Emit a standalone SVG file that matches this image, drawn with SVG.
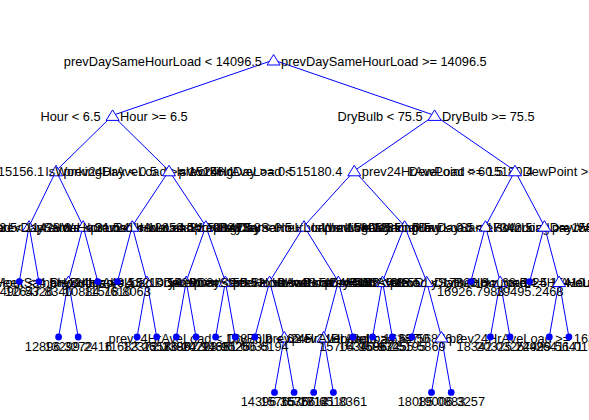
<svg xmlns="http://www.w3.org/2000/svg" xmlns:xlink="http://www.w3.org/1999/xlink" width="589" height="420" viewBox="0 0 589 420">
<style>
.e{stroke:#0000ff;stroke-width:1;fill:none}
.tri{fill:#ffffff;stroke:#0000ff;stroke-width:1}
.dot{fill:#0000ff}
text{font-family:"Liberation Sans",Arial,sans-serif;font-size:12.8px;fill:#000}
.l{text-anchor:end}
.n{text-anchor:middle}
</style>
<defs>
<path id="tri" class="tri" d="M0,-5.5L6.5,5L-6.5,5Z"/>
<circle id="dot" class="dot" r="3.4"/>
</defs>
<rect width="589" height="420" fill="#ffffff"/>
<g id="connectors" class="e">
<path d="M273.6,60L112.6,115.4M273.6,60L434.6,115.4
M112.6,115.4L56.1,170.8M112.6,115.4L169,170.8M434.6,115.4L354.3,170.8M434.6,115.4L515,170.8
M56.1,170.8L29.1,226.2M56.1,170.8L83.1,226.2M169,170.8L132.2,226.2M169,170.8L205.8,226.2
M354.3,170.8L304,226.2M354.3,170.8L404.6,226.2M515,170.8L485.5,226.2M515,170.8L544.4,226.2
M29.1,226.2L19.3,281.6M29.1,226.2L38.9,281.6M83.1,226.2L68.4,281.6M83.1,226.2L97.8,281.6
M132.2,226.2L117.5,281.6M132.2,226.2L146.9,281.6M205.8,226.2L186.2,281.6M205.8,226.2L225.4,281.6
M304,226.2L269.6,281.6M304,226.2L338.3,281.6M404.6,226.2L382.5,281.6M404.6,226.2L426.6,281.6
M485.5,226.2L470.8,281.6M485.5,226.2L500.2,281.6M544.4,226.2L529.7,281.6M544.4,226.2L559.1,281.6
M68.4,281.6L58.6,337M68.4,281.6L78.2,337M146.9,281.6L137.1,337M146.9,281.6L156.7,337
M186.2,281.6L176.3,337M186.2,281.6L196,337M225.4,281.6L215.6,337M225.4,281.6L235.2,337
M269.6,281.6L254.9,337M269.6,281.6L284.3,337M338.3,281.6L323.6,337M338.3,281.6L353,337
M382.5,281.6L372.6,337M382.5,281.6L392.3,337M426.6,281.6L411.9,337M426.6,281.6L441.4,337
M500.2,281.6L490.4,337M500.2,281.6L510,337M559.1,281.6L549.3,337M559.1,281.6L568.9,337
M284.3,337L274.5,392.4M284.3,337L294.1,392.4M323.6,337L313.7,392.4M323.6,337L333.4,392.4
M441.4,337L431.5,392.4M441.4,337L451.2,392.4"/>
</g>
<g id="node-root"><use xlink:href="#tri" x="273.6" y="60"/><text class="l" x="262" y="65.5">prevDaySameHourLoad &lt; 14096.5</text><text x="281.1" y="65.5">prevDaySameHourLoad &gt;= 14096.5</text></g>
<g id="node-hour"><use xlink:href="#tri" x="112.6" y="115.4"/><text class="l" x="100.6" y="120.9">Hour &lt; 6.5</text><text x="120.1" y="120.9">Hour &gt;= 6.5</text></g>
<g id="node-drybulb"><use xlink:href="#tri" x="434.6" y="115.4"/><text class="l" x="422.6" y="120.9">DryBulb &lt; 75.5</text><text x="442.1" y="120.9">DryBulb &gt;= 75.5</text></g>
<g id="node-3"><use xlink:href="#tri" x="56.1" y="170.8"/><text class="l" x="44.1" y="176.3">prev24HrAveLoad &lt; 15156.1</text><text x="63.6" y="176.3">prev24HrAveLoad &gt;= 15156.1</text></g>
<g id="node-4"><use xlink:href="#tri" x="169" y="170.8"/><text class="l" x="157" y="176.3">IsWorkingDay &lt; 0.5</text><text x="176.5" y="176.3">IsWorkingDay &gt;= 0.5</text></g>
<g id="node-5"><use xlink:href="#tri" x="354.3" y="170.8"/><text class="l" x="342.3" y="176.3">prev24HrAveLoad &lt; 15180.4</text><text x="361.8" y="176.3">prev24HrAveLoad &gt;= 15180.4</text></g>
<g id="node-6"><use xlink:href="#tri" x="515" y="170.8"/><text class="l" x="503" y="176.3">DewPoint &lt; 60.5</text><text x="522.5" y="176.3">DewPoint &gt;= 60.5</text></g>
<g id="node-7"><use xlink:href="#tri" x="29.1" y="226.2"/><text class="l" x="17.1" y="231.7">prevWeekSameHourLoad &lt; 10823.5</text><text x="36.6" y="231.7">prevWeekSameHourLoad &gt;= 10823.5</text></g>
<g id="node-8"><use xlink:href="#tri" x="83.1" y="226.2"/><text class="l" x="71.1" y="231.7">prev24HrAveLoad &lt; 11423.8</text><text x="90.6" y="231.7">prev24HrAveLoad &gt;= 11423.8</text></g>
<g id="node-9"><use xlink:href="#tri" x="132.2" y="226.2"/><text class="l" x="120.2" y="231.7">Hour &lt; 21.5</text><text x="139.7" y="231.7">Hour &gt;= 21.5</text></g>
<g id="node-10"><use xlink:href="#tri" x="205.8" y="226.2"/><text class="l" x="193.8" y="231.7">prevDaySameHourLoad &lt; 12852.5</text><text x="213.3" y="231.7">prevDaySameHourLoad &gt;= 12852.5</text></g>
<g id="node-11"><use xlink:href="#tri" x="304" y="226.2"/><text class="l" x="292" y="231.7">IsWorkingDay &lt; 0.5</text><text x="311.5" y="231.7">IsWorkingDay &gt;= 0.5</text></g>
<g id="node-12"><use xlink:href="#tri" x="404.6" y="226.2"/><text class="l" x="392.6" y="231.7">prevDaySameHourLoad &lt; 15805.5</text><text x="412.1" y="231.7">prevDaySameHourLoad &gt;= 15805.5</text></g>
<g id="node-13"><use xlink:href="#tri" x="485.5" y="226.2"/><text class="l" x="473.5" y="231.7">IsWorkingDay &lt; 0.5</text><text x="493" y="231.7">IsWorkingDay &gt;= 0.5</text></g>
<g id="node-14"><use xlink:href="#tri" x="544.4" y="226.2"/><text class="l" x="532.4" y="231.7">prevWeekSameHourLoad &lt; 17342.5</text><text x="551.9" y="231.7">prevWeekSameHourLoad &gt;= 17342.5</text></g>
<g id="node-15"><use xlink:href="#tri" x="68.4" y="281.6"/><text class="l" x="56.4" y="287.1">Hour &lt; 4.5</text><text x="75.9" y="287.1">Hour &gt;= 4.5</text></g>
<g id="node-16"><use xlink:href="#tri" x="146.9" y="281.6"/><text class="l" x="134.9" y="287.1">DryBulb &lt; 40.5</text><text x="154.4" y="287.1">DryBulb &gt;= 40.5</text></g>
<g id="node-17"><use xlink:href="#tri" x="186.2" y="281.6"/><text class="l" x="174.2" y="287.1">prevWeekSameHourLoad &lt; 13210.5</text><text x="193.7" y="287.1">prevWeekSameHourLoad &gt;= 13210.5</text></g>
<g id="node-18"><use xlink:href="#tri" x="225.4" y="281.6"/><text class="l" x="213.4" y="287.1">prev24HrAveLoad &lt; 14260.3</text><text x="232.9" y="287.1">prev24HrAveLoad &gt;= 14260.3</text></g>
<g id="node-19"><use xlink:href="#tri" x="269.6" y="281.6"/><text class="l" x="257.6" y="287.1">DewPoint &lt; 50.5</text><text x="277.1" y="287.1">DewPoint &gt;= 50.5</text></g>
<g id="node-20"><use xlink:href="#tri" x="338.3" y="281.6"/><text class="l" x="326.3" y="287.1">Hour &lt; 18.5</text><text x="345.8" y="287.1">Hour &gt;= 18.5</text></g>
<g id="node-21"><use xlink:href="#tri" x="382.5" y="281.6"/><text class="l" x="370.5" y="287.1">prevDaySameHourLoad &lt; 15410.5</text><text x="390" y="287.1">prevDaySameHourLoad &gt;= 15410.5</text></g>
<g id="node-22"><use xlink:href="#tri" x="426.6" y="281.6"/><text class="l" x="414.6" y="287.1">DryBulb &lt; 68.5</text><text x="434.1" y="287.1">DryBulb &gt;= 68.5</text></g>
<g id="node-23"><use xlink:href="#tri" x="500.2" y="281.6"/><text class="l" x="488.2" y="287.1">prev24HrAveLoad &lt; 17820.6</text><text x="507.7" y="287.1">prev24HrAveLoad &gt;= 17820.6</text></g>
<g id="node-24"><use xlink:href="#tri" x="559.1" y="281.6"/><text class="l" x="547.1" y="287.1">Hour &lt; 14.5</text><text x="566.6" y="287.1">Hour &gt;= 14.5</text></g>
<g id="node-25"><use xlink:href="#tri" x="284.3" y="337"/><text class="l" x="272.3" y="342.5">prev24HrAveLoad &lt; 16876.2</text><text x="291.8" y="342.5">prev24HrAveLoad &gt;= 16876.2</text></g>
<g id="node-26"><use xlink:href="#tri" x="323.6" y="337"/><text class="l" x="311.6" y="342.5">DryBulb &lt; 62.5</text><text x="331.1" y="342.5">DryBulb &gt;= 62.5</text></g>
<g id="node-27"><use xlink:href="#tri" x="441.4" y="337"/><text class="l" x="429.4" y="342.5">prev24HrAveLoad &lt; 16387.0</text><text x="448.9" y="342.5">prev24HrAveLoad &gt;= 16387.0</text></g>
<g id="leaf-0"><use xlink:href="#dot" x="19.3" y="281.6"/><text class="n" x="19.3" y="296">10490.5326</text></g>
<g id="leaf-1"><use xlink:href="#dot" x="38.9" y="281.6"/><text class="n" x="38.9" y="296">12647.8340</text></g>
<g id="leaf-4"><use xlink:href="#dot" x="97.8" y="281.6"/><text class="n" x="97.8" y="296">10884.7610</text></g>
<g id="leaf-5"><use xlink:href="#dot" x="117.5" y="281.6"/><text class="n" x="117.5" y="296">11518.8063</text></g>
<g id="leaf-23"><use xlink:href="#dot" x="470.8" y="281.6"/><text class="n" x="470.8" y="296">16926.7983</text></g>
<g id="leaf-26"><use xlink:href="#dot" x="529.7" y="281.6"/><text class="n" x="529.7" y="296">19495.2468</text></g>
<g id="leaf-2"><use xlink:href="#dot" x="58.6" y="337"/><text class="n" x="58.6" y="350.5">12896.3272</text></g>
<g id="leaf-3"><use xlink:href="#dot" x="78.2" y="337"/><text class="n" x="78.2" y="350.5">13299.2416</text></g>
<g id="leaf-6"><use xlink:href="#dot" x="137.1" y="337"/><text class="n" x="137.1" y="350.5">11683.2657</text></g>
<g id="leaf-7"><use xlink:href="#dot" x="156.7" y="337"/><text class="n" x="156.7" y="350.5">12372.3396</text></g>
<g id="leaf-8"><use xlink:href="#dot" x="176.3" y="337"/><text class="n" x="176.3" y="350.5">13186.2072</text></g>
<g id="leaf-9"><use xlink:href="#dot" x="196" y="337"/><text class="n" x="196" y="350.5">13892.9133</text></g>
<g id="leaf-10"><use xlink:href="#dot" x="215.6" y="337"/><text class="n" x="215.6" y="350.5">14203.9126</text></g>
<g id="leaf-11"><use xlink:href="#dot" x="235.2" y="337"/><text class="n" x="235.2" y="350.5">14651.0035</text></g>
<g id="leaf-12"><use xlink:href="#dot" x="254.9" y="337"/><text class="n" x="254.9" y="350.5">15256.6194</text></g>
<g id="leaf-17"><use xlink:href="#dot" x="353" y="337"/><text class="n" x="353" y="350.5">15704.9586</text></g>
<g id="leaf-18"><use xlink:href="#dot" x="372.6" y="337"/><text class="n" x="372.6" y="350.5">16340.9325</text></g>
<g id="leaf-19"><use xlink:href="#dot" x="392.3" y="337"/><text class="n" x="392.3" y="350.5">16962.5195</text></g>
<g id="leaf-20"><use xlink:href="#dot" x="411.9" y="337"/><text class="n" x="411.9" y="350.5">17455.5869</text></g>
<g id="leaf-24"><use xlink:href="#dot" x="490.4" y="337"/><text class="n" x="490.4" y="350.5">18342.0325</text></g>
<g id="leaf-25"><use xlink:href="#dot" x="510" y="337"/><text class="n" x="510" y="350.5">20325.7249</text></g>
<g id="leaf-27"><use xlink:href="#dot" x="549.3" y="337"/><text class="n" x="549.3" y="350.5">24929.5641</text></g>
<g id="leaf-28"><use xlink:href="#dot" x="568.9" y="337"/><text class="n" x="568.9" y="350.5">26411.0152</text></g>
<g id="leaf-13"><use xlink:href="#dot" x="274.5" y="392.4"/><text class="n" x="274.5" y="405.5">14396.3575</text></g>
<g id="leaf-14"><use xlink:href="#dot" x="294.1" y="392.4"/><text class="n" x="294.1" y="405.5">15765.2812</text></g>
<g id="leaf-15"><use xlink:href="#dot" x="313.7" y="392.4"/><text class="n" x="313.7" y="405.5">16366.6510</text></g>
<g id="leaf-16"><use xlink:href="#dot" x="333.4" y="392.4"/><text class="n" x="333.4" y="405.5">17141.8361</text></g>
<g id="leaf-21"><use xlink:href="#dot" x="431.5" y="392.4"/><text class="n" x="431.5" y="405.5">18085.0883</text></g>
<g id="leaf-22"><use xlink:href="#dot" x="451.2" y="392.4"/><text class="n" x="451.2" y="405.5">19006.3257</text></g>
</svg>
